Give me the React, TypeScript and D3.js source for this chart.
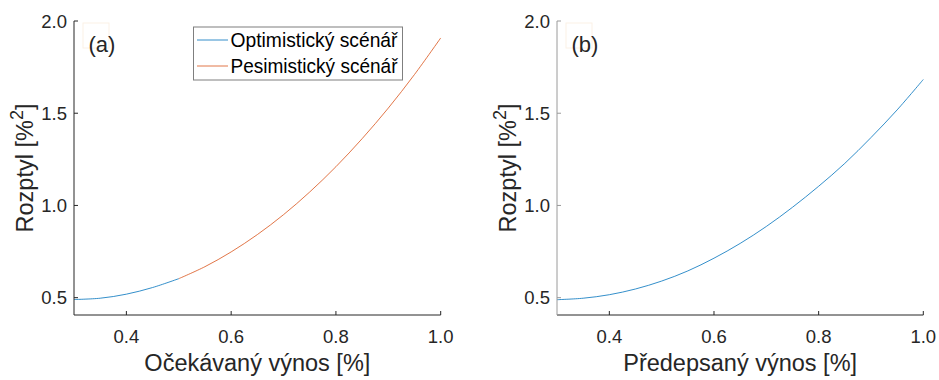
import React from "react";
import * as d3 from "d3";

const xTicks = [0.4, 0.6, 0.8, 1.0];
const yTicks = [0.5, 1.0, 1.5, 2.0];

const optX = [0.30, 0.35, 0.40, 0.45, 0.50];
const optLeft = [0.490, 0.497, 0.519, 0.555, 0.603];
const pesX = [0.50, 0.55, 0.60, 0.65, 0.70, 0.75, 0.80, 0.85, 0.90, 0.95, 1.00];
const pesLeft = [0.603, 0.668, 0.748, 0.842, 0.950, 1.073, 1.210, 1.362, 1.528, 1.710, 1.908];
const rightX = [0.30, 0.35, 0.40, 0.45, 0.50, 0.55, 0.60, 0.65, 0.70, 0.75, 0.80, 0.85, 0.90, 0.95, 1.00];
const rightY = [0.489, 0.497, 0.516, 0.547, 0.590, 0.645, 0.714, 0.794, 0.886, 0.990, 1.104, 1.228, 1.368, 1.518, 1.683];

const seriesNames = ["Optimistický scénář", "Pesimistický scénář"];
const colors = ["#0072BD", "#D95319"];

const FONT = "'Liberation Sans', Arial, Helvetica, sans-serif";
const TXT = "#262626";

const xDomain: [number, number] = [0.3, 1.0];
const yDomain: [number, number] = [0.406, 2.0];

type PanelProps = {
  left: number;
  right: number;
  top: number;
  bottom: number;
  xLabel: string;
  tag: string;
  yAxisColor: string;
  series: { xs: number[]; ys: number[]; color: string }[];
  legend?: boolean;
};

function Panel({ left, right, top, bottom, xLabel, tag, yAxisColor, series, legend }: PanelProps) {
  const x = d3.scaleLinear().domain(xDomain).range([left, right]);
  const y = d3.scaleLinear().domain(yDomain).range([bottom, top]);
  const line = d3
    .line<[number, number]>()
    .x((d) => x(d[0]))
    .y((d) => y(d[1]))
    .curve(d3.curveCatmullRom);
  const tickLen = 4;
  const cx = (left + right) / 2;
  const cy = (top + bottom) / 2;
  return (
    <g>
      {series.map((s, i) => (
        <path
          key={i}
          d={line(s.xs.map((v, j) => [v, s.ys[j]] as [number, number])) || ""}
          fill="none"
          stroke={s.color}
          strokeWidth={0.8}
        />
      ))}
      {/* x axis */}
      <line x1={left} x2={right} y1={bottom} y2={bottom} stroke={TXT} strokeWidth={1} />
      {xTicks.map((t) => (
        <g key={t}>
          <line x1={x(t)} x2={x(t)} y1={bottom} y2={bottom - tickLen} stroke={TXT} />
          <text x={x(t)} y={bottom + 28} textAnchor="middle" fontSize={18.5} fill={TXT} fontFamily={FONT}>
            {t.toFixed(1)}
          </text>
        </g>
      ))}
      {/* y axis */}
      <line x1={left} x2={left} y1={top} y2={bottom} stroke={yAxisColor} strokeWidth={1} />
      {yTicks.map((t) => (
        <g key={t}>
          <line x1={left} x2={left + tickLen} y1={y(t)} y2={y(t)} stroke={yAxisColor} />
          <text x={left - 7} y={y(t) + 6.5} textAnchor="end" fontSize={18.5} fill={TXT} fontFamily={FONT}>
            {t.toFixed(1)}
          </text>
        </g>
      ))}
      <text x={cx} y={bottom + 56} textAnchor="middle" fontSize={23.5} fill={TXT} fontFamily={FONT}>
        {xLabel}
      </text>
      <text
        transform={`translate(${left - 41},${cy}) rotate(-90)`}
        textAnchor="middle"
        fontSize={23.5}
        fill={TXT}
        fontFamily={FONT}
      >
        Rozptyl [%<tspan fontSize={18} dy={-10}>2</tspan>
        <tspan dy={10}>]</tspan>
      </text>
      <rect x={left + 9} y={top + 2} width={26} height={25} fill="none" stroke="#fbf1e6" strokeWidth={1} />
      <text x={left + 14.5} y={top + 30.5} fontSize={22} fill={TXT} fontFamily={FONT}>
        {tag}
      </text>
      {legend && (
        <g>
          <rect x={193.5} y={27} width={209} height={53} fill="#fff" stroke="#7f7f7f" strokeWidth={1} />
          {seriesNames.map((n, i) => (
            <g key={n}>
              <line x1={197} x2={228} y1={40 + i * 26} y2={40 + i * 26} stroke={colors[i]} strokeWidth={0.8} />
              <text
                x={230.5}
                y={47 + i * 26}
                fontSize={19.3}
                fill="#000"
                fontFamily={FONT}
                textLength={167}
                lengthAdjust="spacingAndGlyphs"
              >
                {n}
              </text>
            </g>
          ))}
        </g>
      )}
    </g>
  );
}

export default function App() {
  return (
    <svg
      width={939}
      height={380}
      style={{ position: "absolute", left: 0, top: 0, background: "#fff" }}
    >
      <rect x={0} y={0} width={939} height={380} fill="#fff" />
      <Panel
        left={74}
        right={440.7}
        top={21}
        bottom={315}
        xLabel="Očekávaný výnos [%]"
        tag="(a)"
        yAxisColor={TXT}
        legend
        series={[
          { xs: pesX, ys: pesLeft, color: colors[1] },
          { xs: optX, ys: optLeft, color: colors[0] },
        ]}
      />
      <Panel
        left={557}
        right={923.3}
        top={21}
        bottom={315}
        xLabel="Předepsaný výnos [%]"
        tag="(b)"
        yAxisColor="#9a9a9a"
        series={[{ xs: rightX, ys: rightY, color: colors[0] }]}
      />
    </svg>
  );
}
